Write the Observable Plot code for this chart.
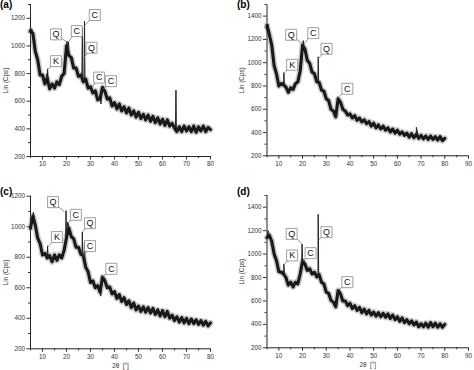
<!DOCTYPE html>
<html><head><meta charset="utf-8">
<script src="https://cdn.jsdelivr.net/npm/d3@7"></script>
<script src="https://cdn.jsdelivr.net/npm/@observablehq/plot@0.6"></script>
<style>
body{margin:0;background:#fff;}
#wrap{position:relative;width:474px;height:370px;overflow:hidden;font-family:"Liberation Sans",Arial,sans-serif;background:#fff;}
.panel{position:absolute;}
.tag{position:absolute;font-weight:bold;font-size:10px;line-height:10px;color:#000;}
</style></head><body><div id="wrap"></div>
<script>
// shared 2θ grid (degrees)
const theta = [5,6,7,8,9,10,11,12,13,14,15,16,17,18,19,20,21,22,23,24,25,26,27,28,29,30,31,32,33,34,35,36,37,38,39,40,41,42,43,44,45,46,47,48,49,50,51,52,53,54,55,56,57,58,59,60,61,62,63,64,65,66,67,68,69,70,71,72,73,74,75,76,77,78,79,80];

// panel (a)
const countsA = [1110,1090,960,900,790,790,725,765,690,725,695,740,720,780,800,1000,930,915,840,840,780,790,740,760,695,705,660,675,610,620,700,670,615,625,565,590,545,580,530,560,515,550,500,530,485,520,475,505,465,500,455,490,445,480,435,470,425,465,420,440,405,380,415,380,420,385,415,380,420,375,415,385,420,380,410,395];
const peakThetaA  = [5.5,11.8,12.1,12.4,19.5,19.8,20.2,20.5,20.85,26.4,26.6,26.8,27.3,27.5,27.7,34.4,34.8,35.2,65.4,65.6,65.8];
const peakCountsA = [1125,800,835,760,870,960,1035,980,1030,760,1130,760,740,1180,750,580,690,710,410,680,395];
const tagA = ["Q","C","C","Q","K","C","C"];
const tagThetaA = [15.6,24.3,31.8,30.4,15.6,33.6,38.5];
const tagCountsA = [1084,1108,1224,987,890,771,745];
const tipThetaA = [20.0,20.8,27.6,27.0,12.0,31.0,35.3];
const tipCountsA = [1030,1030,1150,910,825,708,684];

// panel (b)
const countsB = [1320,1240,1150,975,905,800,820,810,790,745,785,770,820,835,930,1150,1115,1020,995,920,905,835,830,765,755,690,675,600,585,535,690,660,600,585,550,560,525,545,505,525,490,510,475,495,455,480,440,465,430,455,420,440,405,430,395,420,385,405,375,395,360,390,355,385,350,375,345,370,340,370,340,365,335,365,330,350];
const peakThetaB  = [5.5,11.8,12.1,12.4,19.6,20.0,20.3,20.6,26.5,26.6,26.8,34.3,34.8,35.2,68.0];
const peakCountsB = [1330,830,915,790,1000,1120,1190,1140,850,1050,830,530,700,680,445];
const tagB = ["Q","C","Q","K","C"];
const tagThetaB = [15.2,24.5,30.1,15.6,38.9];
const tagCountsB = [1240,1254,1119,982,776];
const tipThetaB = [19.9,20.6,26.6,12.1,35.1];
const tipCountsB = [1162,1162,1033,905,704];

// panel (c)
const countsC = [990,1070,1010,925,890,815,825,795,810,770,815,780,815,795,845,930,990,935,920,865,865,820,810,735,705,635,645,600,615,570,670,645,600,605,560,575,530,555,510,535,490,515,470,500,455,480,445,475,440,470,435,465,425,455,415,450,410,445,400,420,385,410,375,405,370,400,365,395,365,390,360,385,355,380,350,370];
const peakThetaC  = [5.6,6.2,11.8,12.1,12.4,19.6,19.8,20.0,20.5,20.9,26.5,26.6,26.8,27.3,27.5,27.7,34.3,34.8,35.2];
const peakCountsC = [1060,1095,820,875,790,880,1105,930,1030,1010,820,965,800,790,900,760,545,665,675];
const tagC = ["Q","C","Q","C","K","C"];
const tagThetaC = [14.4,23.9,29.8,29.8,16.0,38.7];
const tagCountsC = [1161,1078,1023,873,932,724];
const tipThetaC = [19.0,20.8,26.6,27.3,12.1,35.2];
const tipCountsC = [1100,1025,964,811,866,670];

// panel (d)
const countsD = [1140,1160,1110,1000,945,850,845,830,800,735,760,720,760,745,830,940,915,860,875,830,845,805,825,760,745,675,665,605,590,550,690,660,600,600,560,580,535,560,520,545,500,530,490,520,480,505,470,500,465,495,460,490,450,480,440,465,425,455,415,440,405,430,395,420,380,405,380,410,375,415,380,410,375,405,375,400];
const peakThetaD  = [5.5,11.8,12.1,12.4,19.6,19.8,20.0,20.5,26.5,26.6,26.8,34.3,34.8,35.2];
const peakCountsD = [1200,850,915,810,880,1085,960,945,820,1340,810,550,690,680];
const tagD = ["Q","C","Q","K","C"];
const tagThetaD = [15.4,23.4,30.1,15.6,38.9];
const tagCountsD = [1172,1008,1187,988,760];
const tipThetaD = [19.9,20.1,26.6,12.1,35.1];
const tipCountsD = [1087,936,1116,908,689];

// ticks
const xMajor80 = [10,20,30,40,50,60,70,80];
const xMinor80 = [5,15,25,35,45,55,65,75];
const xMajor90 = [10,20,30,40,50,60,70,80,90];
const xMinor90 = [5,15,25,35,45,55,65,75,85];
const yMajor1300 = [200,400,600,800,1000,1200];
const yMinor1300 = [300,500,700,900,1100,1300];
const yMajor1500 = [200,400,600,800,1000,1200,1400];
const yMinor1500 = [300,500,700,900,1100,1300,1500];
const yMajor1200 = [200,400,600,800,1000,1200];
const yMinor1200 = [300,500,700,900,1100];

const yTitle = "Lin (Cps)";
const xTitle = "2θ  [°]";

function makePanel(p) {
  const base = theta.map((t, i) => ({t, c: p.counts[i]}));
  const pts = base
    .concat(p.peakTheta.map((t, i) => ({t, c: p.peakCounts[i]})))
    .sort((a, b) => a.t - b.t);
  const tags = p.tag.map((s, i) => ({s, bx: p.tagTheta[i], by: p.tagCounts[i], ax: p.tipTheta[i], ay: p.tipCounts[i]}));
  return Plot.plot({
    width: 237, height: 185,
    marginLeft: p.ml, marginRight: p.mr, marginTop: p.mt, marginBottom: p.mb,
    x: {domain: [5, p.xMax], label: null},
    y: {domain: [200, p.yMax], label: null},
    style: {fontFamily: "Liberation Sans, Arial, sans-serif", fontSize: "6.3px", color: "#333", background: "white"},
    marks: [
      Plot.axisX({ticks: p.xMinor, tickSize: 2, text: null, label: null}),
      Plot.axisX({ticks: p.xMajor, tickSize: 3.5, tickPadding: 2, tickFormat: "d", label: p.xLabel ?? null, labelAnchor: "center", labelArrow: "none", labelOffset: 19}),
      Plot.axisY({ticks: p.yMinor, tickSize: 2, text: null, label: null}),
      Plot.axisY({ticks: p.yMajor, tickSize: 3.5, tickPadding: 2, tickFormat: "d", label: yTitle, labelAnchor: "center", labelArrow: "none", labelOffset: 27}),
      Plot.ruleY([200], {stroke: "#222"}),
      Plot.ruleX([5], {stroke: "#222"}),
      Plot.line(base, {x: "t", y: "c", stroke: "#777", strokeWidth: 6, strokeOpacity: 0.4, strokeLinejoin: "round"}),
      Plot.line(base, {x: "t", y: "c", stroke: "#111", strokeWidth: 3, strokeLinejoin: "round"}),
      Plot.line(pts, {x: "t", y: "c", stroke: "#222", strokeWidth: 1}),
      Plot.link(tags, {x1: "bx", y1: "by", x2: "ax", y2: "ay", stroke: "#777", strokeWidth: 0.8}),
      Plot.dot(tags, {x: "bx", y: "by", symbol: "square", r: 6.2, fill: "white", stroke: "#888", strokeWidth: 0.8}),
      Plot.text(tags, {x: "bx", y: "by", text: "s", fontSize: 9, fill: "#111"})
    ]
  });
}

const wrap = document.getElementById("wrap");
const panels = [
  {left: 0, top: 0, tagText: "(a)", counts: countsA, peakTheta: peakThetaA, peakCounts: peakCountsA, tag: tagA, tagTheta: tagThetaA, tagCounts: tagCountsA, tipTheta: tipThetaA, tipCounts: tipCountsA, xMax: 80, yMax: 1300, xMajor: xMajor80, xMinor: xMinor80, yMajor: yMajor1300, yMinor: yMinor1300, ml: 30, mr: 27, mt: 4, mb: 29},
  {left: 237, top: 0, tagText: "(b)", counts: countsB, peakTheta: peakThetaB, peakCounts: peakCountsB, tag: tagB, tagTheta: tagThetaB, tagCounts: tagCountsB, tipTheta: tipThetaB, tipCounts: tipCountsB, xMax: 90, yMax: 1500, xMajor: xMajor90, xMinor: xMinor90, yMajor: yMajor1500, yMinor: yMinor1500, ml: 29.5, mr: 6, mt: 4, mb: 29.7},
  {left: 0, top: 185, tagText: "(c)", counts: countsC, peakTheta: peakThetaC, peakCounts: peakCountsC, tag: tagC, tagTheta: tagThetaC, tagCounts: tagCountsC, tipTheta: tipThetaC, tipCounts: tipCountsC, xMax: 80, yMax: 1200, xMajor: xMajor80, xMinor: xMinor80, yMajor: yMajor1200, yMinor: yMinor1200, ml: 30, mr: 27, mt: 10.7, mb: 21.7, xLabel: xTitle},
  {left: 237, top: 185, tagText: "(d)", counts: countsD, peakTheta: peakThetaD, peakCounts: peakCountsD, tag: tagD, tagTheta: tagThetaD, tagCounts: tagCountsD, tipTheta: tipThetaD, tipCounts: tipCountsD, xMax: 90, yMax: 1500, xMajor: xMajor90, xMinor: xMinor90, yMajor: yMajor1500, yMinor: yMinor1500, ml: 29.5, mr: 6, mt: 10, mb: 22.7, xLabel: xTitle}
];
for (const p of panels) {
  const div = document.createElement("div");
  div.className = "panel";
  div.style.left = p.left + "px";
  div.style.top = p.top + "px";
  div.appendChild(makePanel(p));
  wrap.appendChild(div);
  const t = document.createElement("div");
  t.className = "tag";
  t.textContent = p.tagText;
  t.style.left = p.left + "px";
  t.style.top = (p.top + (p.top ? 2 : 0)) + "px";
  wrap.appendChild(t);
}
</script>
</body></html>
